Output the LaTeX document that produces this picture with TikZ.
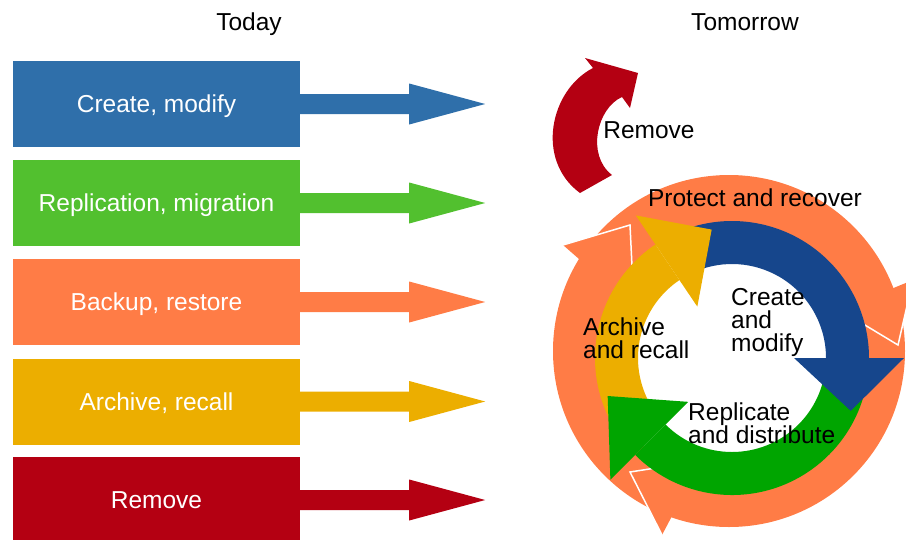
\documentclass[tikz,border=0pt]{standalone}
\usepackage{fontspec}
\setmainfont{Liberation Sans}
\usetikzlibrary{calc}

\definecolor{boxblue}{HTML}{2F6FAA}
\definecolor{boxgreen}{HTML}{52C02F}
\definecolor{boxorange}{HTML}{FF7C46}
\definecolor{boxyellow}{HTML}{ECAE00}
\definecolor{boxred}{HTML}{B40012}
\definecolor{ringblue}{HTML}{16468C}
\definecolor{ringgreen}{HTML}{00A500}

% body and head of one arrow of the inner cycle, around (c)
\newcommand{\cyclebody}[3]{\fill[#1] ($(c)+(#2:137)$) arc[start angle=#2,end angle=#3,radius=137] -- ($(c)+(#3:94)$) arc[start angle=#3,end angle=#2,radius=94] -- cycle;}
\newcommand{\cyclehead}[3]{\fill[#1] ($(c)+(#2:62)$) -- ($(c)+(#2:172)$) -- ($(c)+(#3:130)$) -- cycle;}

\begin{document}
\begin{tikzpicture}[x=1pt,y=-1pt]
    % Define styles
    \tikzstyle{stage}=[rectangle,minimum width=287pt,minimum height=86pt,inner sep=0pt,text height=17pt,text depth=0pt,text=white,font=\fontsize{24.5}{23}\selectfont]
    \tikzstyle{heading}=[inner sep=0pt,text height=17pt,text depth=0pt,font=\fontsize{24.5}{23}\selectfont]
    \tikzstyle{ringtext}=[align=left,inner sep=0pt,anchor=west,font=\fontsize{24.5}{23}\selectfont]
    \tikzstyle{outline}=[white,line width=1.5pt]

    \useasboundingbox (0,0) rectangle (906,539);
    \clip (0,0) rectangle (906,539);

    % Today
    \node[heading] (today) at (249,21.5) {Today};
    \node[stage,fill=boxblue] (create) at (156.5,104) {Create, modify};
    \node[stage,fill=boxgreen] (replication) at (156.5,203) {Replication, migration};
    \node[stage,fill=boxorange] (backup) at (156.5,302) {Backup, restore};
    \node[stage,fill=boxyellow] (archive) at (156.5,401.5) {Archive, recall};
    \node[stage,fill=boxred] (remove) at (156.5,500) {Remove};

    % Draw the arrows
    \fill[boxblue] (create.east) ++(0,-10) -- ++(109,0) -- ++(0,-10.5) -- ++(76,20.5) -- ++(-76,20.5) -- ++(0,-10.5) -- ++(-109,0) -- cycle;
    \fill[boxgreen] (replication.east) ++(0,-10) -- ++(109,0) -- ++(0,-10.5) -- ++(76,20.5) -- ++(-76,20.5) -- ++(0,-10.5) -- ++(-109,0) -- cycle;
    \fill[boxorange] (backup.east) ++(0,-10) -- ++(109,0) -- ++(0,-10.5) -- ++(76,20.5) -- ++(-76,20.5) -- ++(0,-10.5) -- ++(-109,0) -- cycle;
    \fill[boxyellow] (archive.east) ++(0,-10) -- ++(109,0) -- ++(0,-10.5) -- ++(76,20.5) -- ++(-76,20.5) -- ++(0,-10.5) -- ++(-109,0) -- cycle;
    \fill[boxred] (remove.east) ++(0,-10) -- ++(109,0) -- ++(0,-10.5) -- ++(76,20.5) -- ++(-76,20.5) -- ++(0,-10.5) -- ++(-109,0) -- cycle;

    % Tomorrow
    \node[heading] (tomorrow) at (745,21.5) {Tomorrow};

    % Remove arrow
    \fill[boxred] (580,193) .. controls (535,160) and (550,90) .. (593,68) -- (585,58) -- (638,73) -- (630,108) -- (622,97) .. controls (597,108) and (586,155) .. (612,175) -- cycle;
    \node[heading] (discard) at (649,130) {Remove};

    % Protect and recover ring
    \coordinate (o) at (729,351);
    \fill[boxorange,even odd rule] (o) circle[radius=176] (o) circle[radius=128];
    \fill[boxorange] (630,225) -- (563,245) -- (634,307) -- cycle;
    \fill[boxorange] (898,345) -- (913,280) -- (840,310) -- cycle;
    \fill[boxorange] (630,472) -- (662,535) -- (701,461) -- cycle;
    \draw[outline] (634,307) -- (630,225) -- (563,245);
    \draw[outline] (840,310) -- (898,345) -- (913,280);
    \draw[outline] (701,461) -- (630,472) -- (662,535);

    % Inner cycle
    \coordinate (c) at (732,358);
    \cyclebody{ringblue}{248}{360}
    \cyclebody{ringgreen}{5}{135}
    \cyclebody{boxyellow}{140}{236}
    \cyclehead{ringblue}{360}{384}
    \cyclehead{ringgreen}{135}{163}
    \cyclehead{boxyellow}{236}{261}

    % Add the texts
    \node[heading] (protect) at (755,198) {Protect and recover};
    \node[ringtext] (modify) at (731,322) {Create\\and\\modify};
    \node[ringtext] (recall) at (583,338.5) {Archive\\and recall};
    \node[ringtext] (distribute) at (688,423) {Replicate\\and distribute};
\end{tikzpicture}
\end{document}
